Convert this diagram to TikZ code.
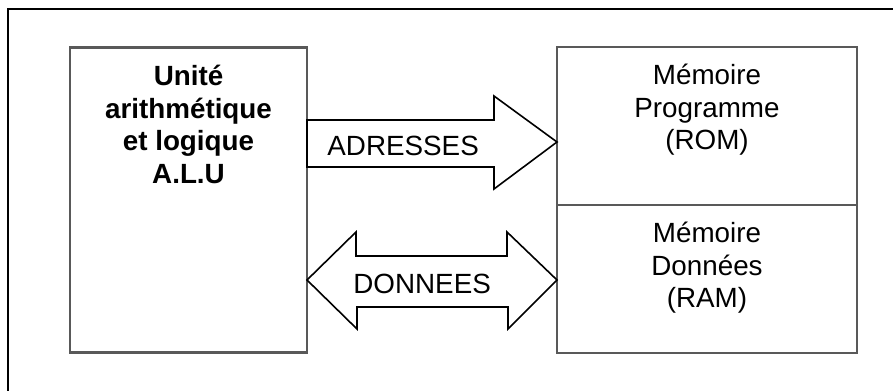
\documentclass[tikz,border=0pt]{standalone}
\usepackage{fontspec}
\setmainfont{Liberation Sans}
\usetikzlibrary{positioning}

\tikzset{
  box/.style={draw=black!65, line width=1.1pt, outer sep=0pt, inner sep=0pt},
  fat/.style={draw=black, line width=0.8pt, line join=miter},
  txt/.style={inner sep=0pt, align=center, font=\fontsize{13.9}{16.2}\selectfont},
  lbl/.style={inner sep=0pt, font=\fontsize{13.9}{16.2}\selectfont}
}

\begin{document}
\begin{tikzpicture}[x=0.5pt,y=-0.5pt]
\useasboundingbox (0,0) rectangle (893,391);
\draw[line width=0.9pt] (893,9)--(8,9)--(8,391);

% boxes
\node[box, minimum width=118.5pt, minimum height=152.5pt] (alu) at (188.5,200) {};
\node[box, minimum width=150pt, minimum height=79pt] (rom) at (707,126) {};
\node[box, minimum width=150pt, minimum height=74pt, below=0pt of rom] (ram) {};

\node[txt, font=\fontsize{13.9}{16.4}\selectfont\bfseries, below=8.5pt of alu.north] (alutxt)
  {Unité\\arithmétique\\et logique\\A.L.U};
\node[txt, below=8.5pt of rom.north] (romtxt) {Mémoire\\Programme\\(ROM)};
\node[txt, below=8.5pt of ram.north] (ramtxt) {Mémoire\\Données\\(RAM)};

% bus arrows
\draw[fat] (alu.east |- 0,120) -- ++(187,0) -- ++(0,-24) -- (rom.west |- 0,142)
  -- ++(-63,47) -- ++(0,-22) -- (alu.east |- 0,167) -- cycle;
\draw[fat] (alu.east |- 0,280) -- ++(49,-48) -- ++(0,24) -- ++(151,0) -- ++(0,-24)
  -- (ram.west |- 0,280) -- ++(-49,49) -- ++(0,-22) -- ++(-151,0) -- ++(0,22) -- cycle;

\node[lbl, anchor=base west] (adr) at (327,155) {ADRESSES};
\node[lbl, anchor=base west] (don) at (353,293) {DONNEES};
\end{tikzpicture}
\end{document}
